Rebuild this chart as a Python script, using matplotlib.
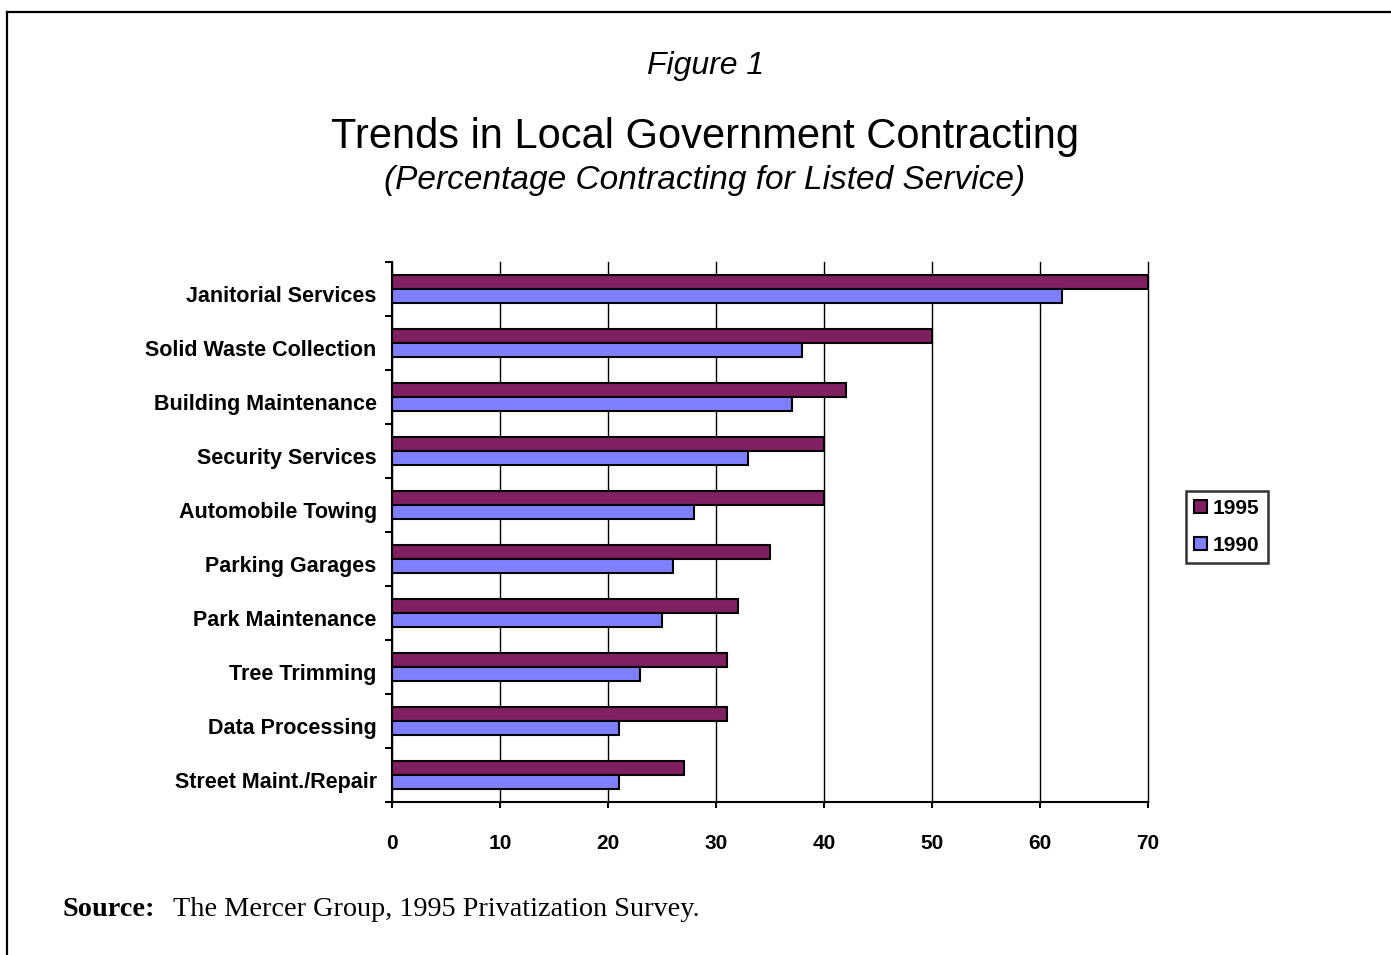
import numpy as np
import matplotlib
matplotlib.use("Agg")
import matplotlib.pyplot as plt
import matplotlib.transforms as mtransforms
from matplotlib.lines import Line2D
from matplotlib.patches import Patch

services = [
    "Janitorial Services",
    "Solid Waste Collection",
    "Building Maintenance",
    "Security Services",
    "Automobile Towing",
    "Parking Garages",
    "Park Maintenance",
    "Tree Trimming",
    "Data Processing",
    "Street Maint./Repair",
]
pct_1995 = [70, 50, 42, 40, 40, 35, 32, 31, 31, 27]
pct_1990 = [62, 38, 37, 33, 28, 26, 25, 23, 21, 21]
x_ticks = [0, 10, 20, 30, 40, 50, 60, 70]

c1995 = "#802060"
c1990 = "#8080FF"

plt.rcParams["font.family"] = ["Liberation Sans", "DejaVu Sans"]

fig = plt.figure(figsize=(13.91, 9.55), dpi=100)
W, H = 1391, 955

# outer frame (top and left edges only visible)
fig.add_artist(Line2D([7 / W, 1.0], [1 - 12 / H, 1 - 12 / H], color="black", lw=1.6,
                      transform=fig.transFigure))
fig.add_artist(Line2D([7 / W, 7 / W], [0.0, 1 - 12 / H], color="black", lw=1.6,
                      transform=fig.transFigure))

ax = fig.add_axes([392 / W, 1 - 802 / H, (1148 - 392) / W, (802 - 262) / H])

y = np.arange(len(services))
h = 0.26
ax.barh(y - h / 2, pct_1995, height=h, color=c1995, edgecolor="black", linewidth=1.5,
        label="1995", zorder=3)
ax.barh(y + h / 2, pct_1990, height=h, color=c1990, edgecolor="black", linewidth=1.5,
        label="1990", zorder=3)

ax.set_xlim(0, 70)
ax.set_ylim(len(services) - 0.5, -0.5)
ax.set_xticks(x_ticks)
ax.set_xticklabels([str(t) for t in x_ticks], fontsize=15, fontweight="bold")
ax.set_yticks(y)
ax.set_yticklabels(services, fontsize=15.5, fontweight="bold")
ax.set_yticks(np.arange(len(services) + 1) - 0.5, minor=True)
ax.tick_params(axis="y", which="major", length=0, pad=11)
ax.tick_params(axis="y", which="minor", length=5, width=1.5, direction="out")
ax.tick_params(axis="x", which="major", length=4, width=1.5, direction="out", pad=19)

# category labels sit a little below the band centre in the original
shift = mtransforms.ScaledTranslation(0, -5 / 100, fig.dpi_scale_trans)
for lbl in ax.get_yticklabels():
    lbl.set_transform(lbl.get_transform() + shift)

ax.xaxis.grid(True, color="black", linewidth=1.0, zorder=0)
for gl in ax.get_xgridlines():
    gl.set_clip_on(False)
ax.set_axisbelow(True)
for s in ["top", "right"]:
    ax.spines[s].set_visible(False)
for s in ["left", "bottom"]:
    ax.spines[s].set_linewidth(1.5)
    ax.spines[s].set_zorder(4)

handles = [Patch(facecolor=c1995, edgecolor="black", linewidth=1.5, label="1995"),
           Patch(facecolor=c1990, edgecolor="black", linewidth=1.5, label="1990")]
leg = fig.legend(handles=handles, loc="center left",
                 bbox_to_anchor=(1186 / W, 1 - 527 / H),
                 prop={"weight": "bold", "size": 15}, frameon=True, fancybox=False,
                 handlelength=0.6, handleheight=0.6, handletextpad=0.3,
                 borderpad=0.4, labelspacing=0.85, borderaxespad=0)
leg.get_frame().set_edgecolor("black")
leg.get_frame().set_linewidth(1.8)

fig.text(706 / W, 1 - 66 / H, "Figure 1", ha="center", va="center", fontsize=23,
         style="italic")
fig.text(705 / W, 1 - 137 / H, "Trends in Local Government Contracting", ha="center",
         va="center", fontsize=30)
fig.text(705 / W, 1 - 180 / H, "(Percentage Contracting for Listed Service)",
         ha="center", va="center", fontsize=24, style="italic")

fig.text(63 / W, 1 - 909 / H, "Source:", ha="left", va="center", fontsize=20.3,
         fontweight="bold", family=["Liberation Serif", "DejaVu Serif"])
fig.text(173 / W, 1 - 909 / H, "The Mercer Group, 1995 Privatization Survey.",
         ha="left", va="center", fontsize=20.3, family=["Liberation Serif", "DejaVu Serif"])

fig.savefig("out.png", dpi=100)
